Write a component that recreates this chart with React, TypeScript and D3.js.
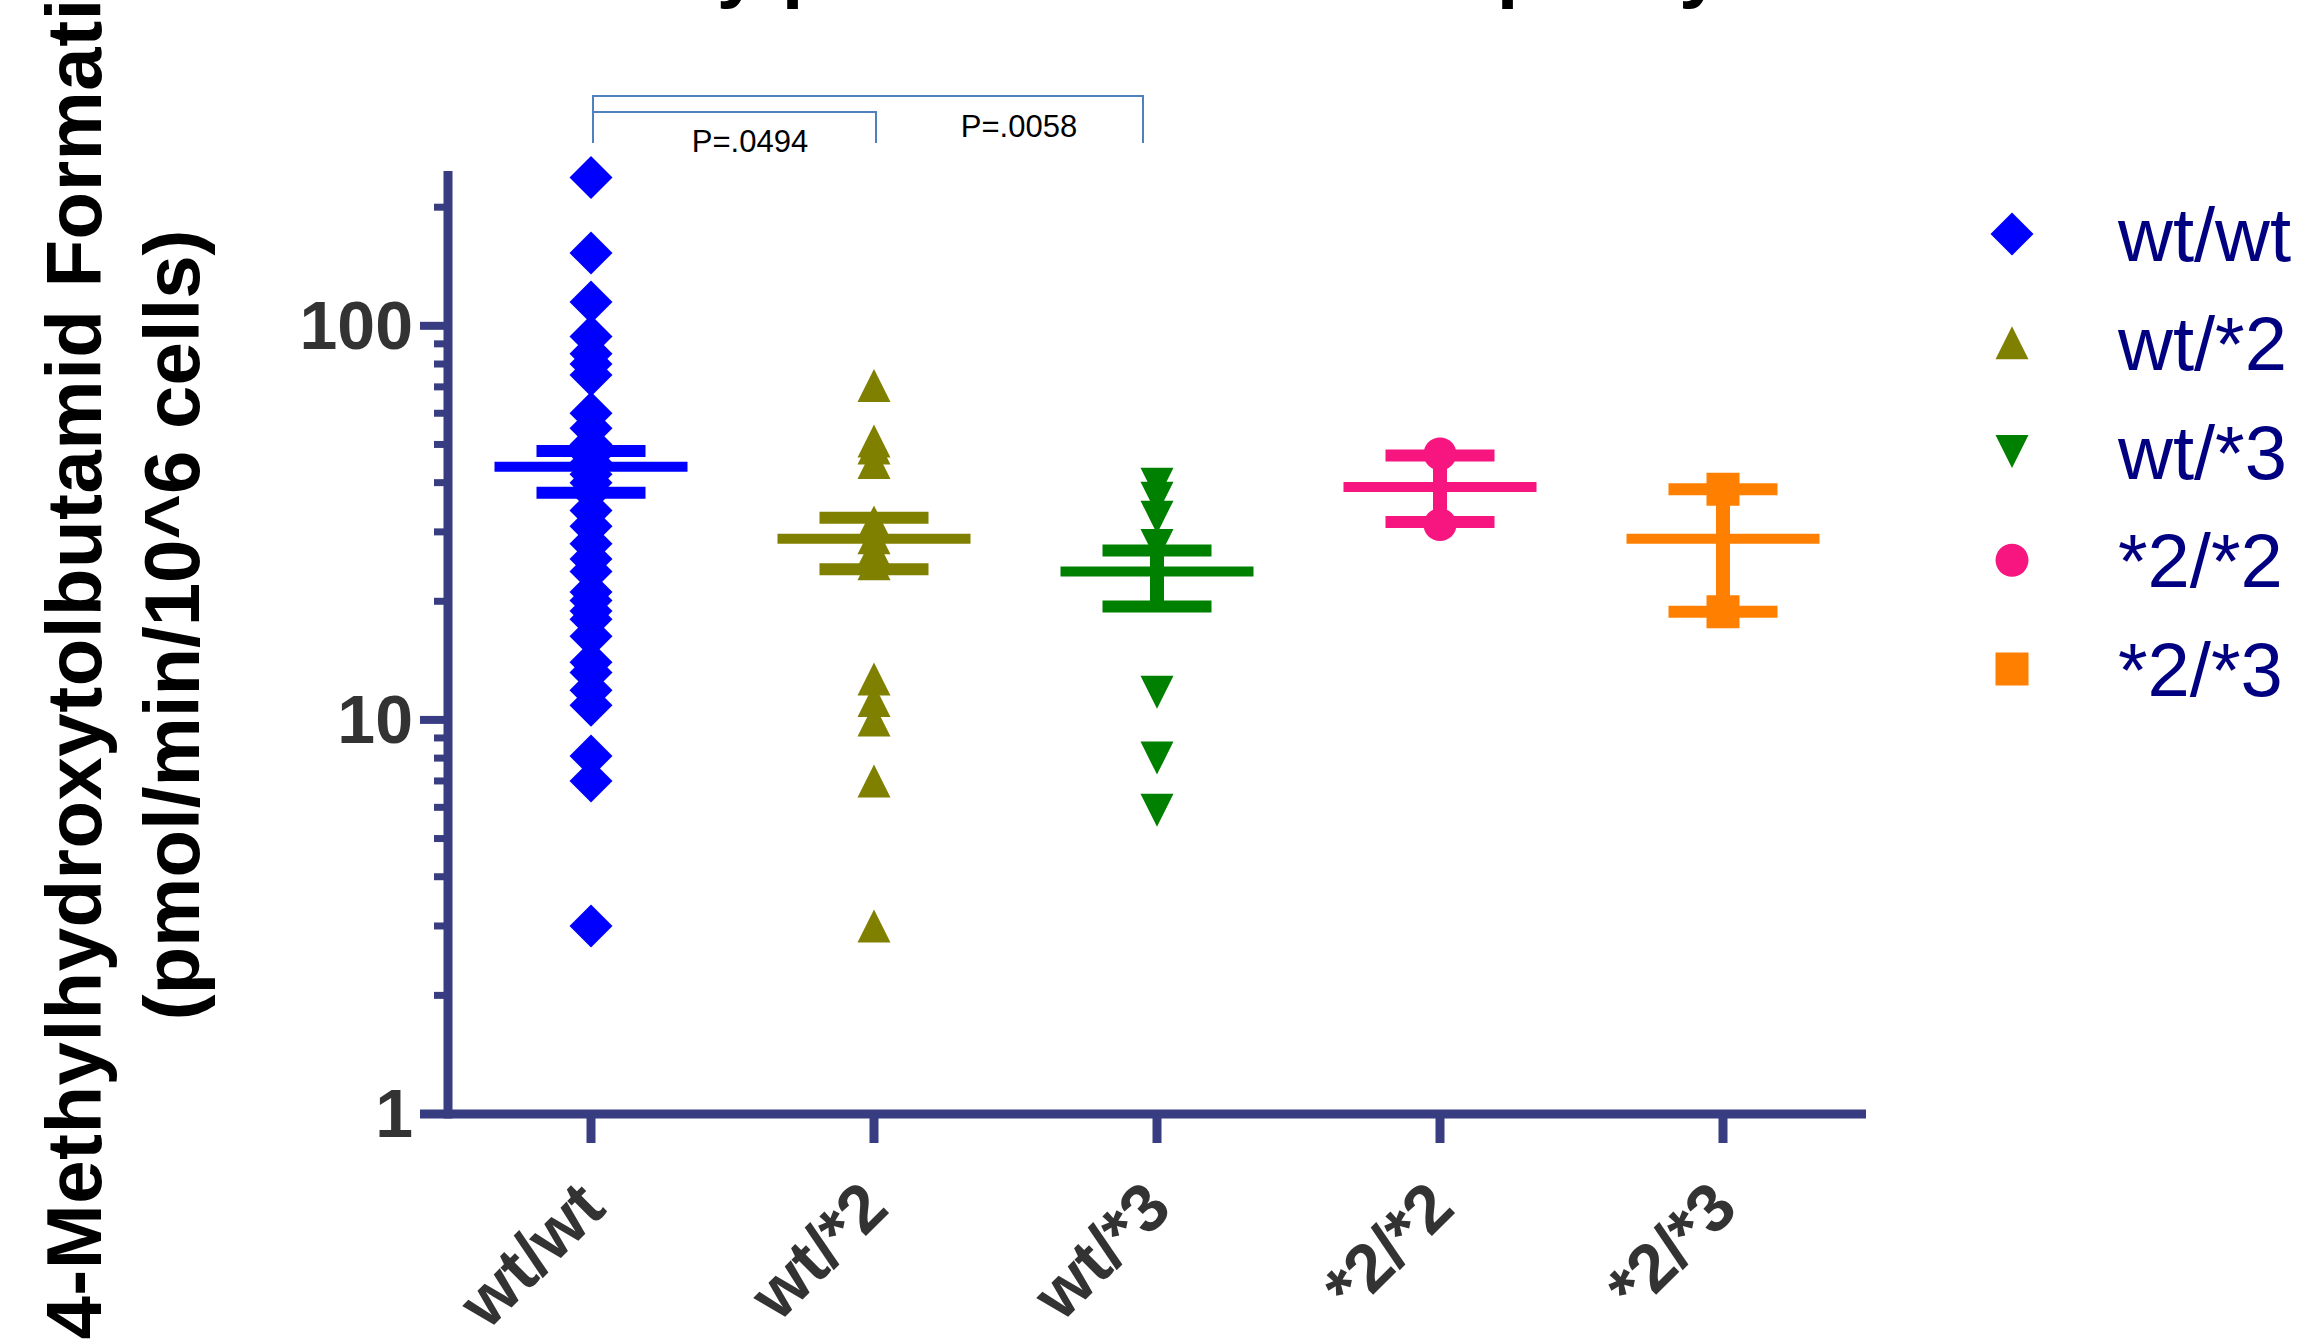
import React from 'react';
import * as d3 from 'd3';

// genotype groups on the x axis
const categories = ['wt/wt', 'wt/*2', 'wt/*3', '*2/*2', '*2/*3'];

// individual values (pmol/min/10^6 cells)
const wtwtValues = [238, 153, 115, 94, 85, 80, 75, 60, 55, 50, 47, 45, 42, 40, 38, 34, 31, 28, 25.6, 23.8, 21.1, 20.1, 18.9, 18.0, 16.3, 14.0, 13.2, 11.9, 10.9, 8.1, 7.0, 3.0];
const wt2Values = [70.6, 51, 49, 45, 31.8, 29, 27, 24.9, 12.7, 11.2, 10.0, 7.0, 3.0];
const wt3Values = [39.6, 36.5, 32.7, 27.7, 11.75, 8.0, 5.9];
const s2s2Values = [47.3, 31.3];
const s2s3Values = [38.5, 18.8];

// mean and error bar ends per group
const means = [43.9, 28.8, 23.8, 39.0, 28.8];
const errUpper = [48.1, 32.6, 26.9, 46.9, 38.5];
const errLower = [37.7, 24.1, 19.4, 31.8, 18.8];

const majorTicks = [1, 10, 100];
const minorTicks = [2, 3, 4, 5, 6, 7, 8, 9, 20, 30, 40, 50, 60, 70, 80, 90, 200];

const colors = ['#0000ff', '#808000', '#008000', '#f71580', '#ff8000'];
const shapes = ['diamond', 'triUp', 'triDown', 'circle', 'square'];
const groupValues = [wtwtValues, wt2Values, wt3Values, s2s2Values, s2s3Values];

const FONT = 'Liberation Sans, Arial, sans-serif';
const AXIS = '#383d82';

function markerPath(shape: string, cx: number, cy: number) {
  const p = d3.path();
  if (shape === 'diamond') {
    p.moveTo(cx, cy - 21.5); p.lineTo(cx + 21.5, cy); p.lineTo(cx, cy + 21.5); p.lineTo(cx - 21.5, cy); p.closePath();
  } else if (shape === 'triUp') {
    p.moveTo(cx, cy - 16.5); p.lineTo(cx + 16.5, cy + 16.5); p.lineTo(cx - 16.5, cy + 16.5); p.closePath();
  } else if (shape === 'triDown') {
    p.moveTo(cx - 16.5, cy - 16.5); p.lineTo(cx + 16.5, cy - 16.5); p.lineTo(cx, cy + 16.5); p.closePath();
  } else if (shape === 'circle') {
    p.arc(cx, cy, 16.5, 0, Math.PI * 2);
  } else {
    p.rect(cx - 16.5, cy - 16.5, 33, 33);
  }
  return p.toString();
}

export default function App() {
  const W = 2299, H = 1339;
  const x = d3.scalePoint<string>().domain(categories).range([591, 1723]);
  const y = d3.scaleLog().domain([1, 250]).range([1114, 169]);
  const axisLeft = 448, axisBottom = 1114;

  const legendY = d3.scalePoint<string>().domain(categories).range([234, 669]);

  return (
    <svg width={W} height={H} style={{ position: 'absolute', left: 0, top: 0, display: 'block', background: '#fff' }}
      fontFamily={FONT}>
      {/* title, cut off by the top edge */}
      <text x={156} y={-7} fontSize={78} fontWeight="bold" fill="#000">CYP2C9 Activity per Cell and Net Capacity</text>

      {/* y axis title */}
      <g fontWeight="bold" fontSize={78} fill="#000" textAnchor="middle">
        <text transform={`translate(101,621) rotate(-90)`} textLength={1437} lengthAdjust="spacing">4-Methylhydroxytolbutamid Formation</text>
        <text transform={`translate(199,625) rotate(-90)`}>(pmol/min/10^6 cells)</text>
      </g>

      {/* axes */}
      <line x1={axisLeft} x2={axisLeft} y1={171} y2={axisBottom + 4.5} stroke={AXIS} strokeWidth={9} />
      <line x1={420} x2={1866} y1={axisBottom} y2={axisBottom} stroke={AXIS} strokeWidth={9} />
      {majorTicks.map(t => (
        <g key={'M' + t}>
          <line x1={420} x2={axisLeft} y1={y(t)} y2={y(t)} stroke={AXIS} strokeWidth={8} />
          <text x={413} y={y(t) + 23} textAnchor="end" fontSize={68} fontWeight="bold" fill="#333">{t}</text>
        </g>
      ))}
      {minorTicks.map(t => (
        <line key={'m' + t} x1={434} x2={axisLeft} y1={y(t)} y2={y(t)} stroke={AXIS} strokeWidth={7} />
      ))}
      {categories.map(c => (
        <g key={'x' + c}>
          <line x1={x(c)} x2={x(c)} y1={axisBottom} y2={axisBottom + 29} stroke={AXIS} strokeWidth={9} />
          <text transform={`translate(${(x(c) as number) + 17},1211) rotate(-45)`} textAnchor="end"
            fontSize={68} fontWeight="bold" fill="#333">{c}</text>
        </g>
      ))}

      {/* data points */}
      {groupValues.map((vals, gi) => (
        <g key={'pts' + gi} fill={colors[gi]}>
          {vals.map((v, i) => (
            <path key={i} d={markerPath(shapes[gi], x(categories[gi]) as number, y(v))} />
          ))}
        </g>
      ))}

      {/* mean and error bars */}
      {categories.map((c, gi) => {
        const cx = x(c) as number;
        return (
          <g key={'err' + c} stroke={colors[gi]}>
            <line x1={cx} x2={cx} y1={y(errLower[gi])} y2={y(errUpper[gi])} strokeWidth={14} />
            <line x1={cx - 54.5} x2={cx + 54.5} y1={y(errUpper[gi])} y2={y(errUpper[gi])} strokeWidth={12} />
            <line x1={cx - 54.5} x2={cx + 54.5} y1={y(errLower[gi])} y2={y(errLower[gi])} strokeWidth={12} />
            <line x1={cx - 96.5} x2={cx + 96.5} y1={y(means[gi])} y2={y(means[gi])} strokeWidth={10} />
          </g>
        );
      })}

      {/* significance brackets */}
      <g stroke="#4f81bd" strokeWidth={2} fill="none">
        <polyline points={`${(x('wt/wt') as number) + 2},143 ${(x('wt/wt') as number) + 2},96 ${(x('wt/*3') as number) - 14},96 ${(x('wt/*3') as number) - 14},143`} />
        <polyline points={`${(x('wt/wt') as number) + 2},143 ${(x('wt/wt') as number) + 2},112 ${(x('wt/*2') as number) + 2},112 ${(x('wt/*2') as number) + 2},143`} />
      </g>
      <text x={750} y={152} textAnchor="middle" fontSize={31} fill="#000">P=.0494</text>
      <text x={1019} y={137} textAnchor="middle" fontSize={31} fill="#000">P=.0058</text>

      {/* legend */}
      {categories.map((c, gi) => (
        <g key={'leg' + c}>
          <path d={markerPath(shapes[gi], 2012, legendY(c) as number)} fill={colors[gi]} />
          <text x={2118} y={(legendY(c) as number) + 27} fontSize={76} fill="#000080">{c}</text>
        </g>
      ))}
    </svg>
  );
}
